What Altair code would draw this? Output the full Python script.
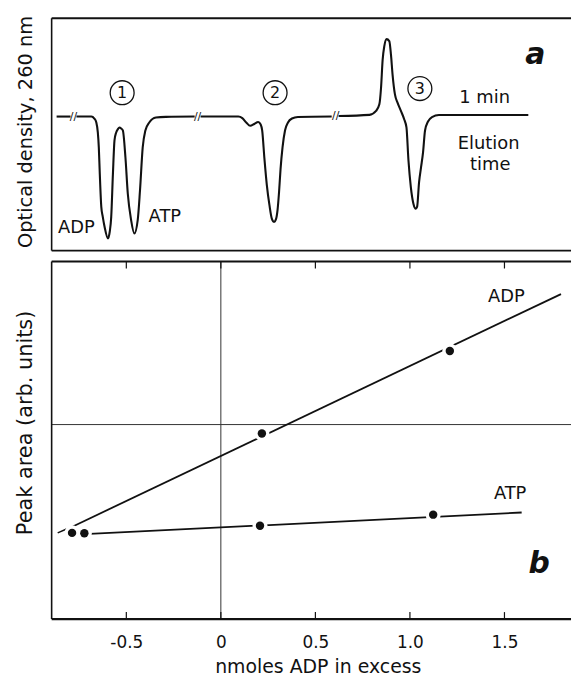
import altair as alt
import pandas as pd

# ---------------- panel a : elution traces (time offset, signal vs baseline) -------------
seg0_t = [5, 19]
seg0_s = [0, 0]
seg1_t = [25, 40, 43, 45, 46.5, 47.5, 48.5, 50, 51.5, 53.3, 56.7, 58.5, 60, 61.7, 63.3, 65,
          66.7, 68.3, 70, 71.7, 74.3, 76.7, 80, 83.3, 86.7, 89, 91.7, 94.3, 98.3, 105, 115, 144]
seg1_s = [0, 0, -2, -6, -16, -31, -58, -91, -101, -111, -122.7, -116, -101, -58, -24, -16,
          -12.7, -11, -12, -14, -41, -77.7, -104, -117.7, -104, -74, -31, -14.3, -6, -1, -0.3, 0]
seg2_t = [150, 188, 192, 196, 200, 204, 208, 210.5, 212, 214.3, 216.7, 219.3, 221.7, 224, 226,
          227.5, 229, 230.5, 232.5, 235, 238, 242, 248, 282]
seg2_s = [0, 0, -1.5, -6, -9.3, -7.5, -5.5, -8, -14, -42.7, -69, -89, -102.7, -106, -103,
          -94, -76, -53, -31, -14, -6, -2, -0.5, 0]
seg3_t = [289, 320, 326.7, 330, 331.7, 333.3, 335, 337.3, 340, 341.7, 343.3, 345.7, 348.3, 351.7,
          355, 357.3, 359.3, 361.7, 364.3, 366.7, 368, 370, 372, 374, 376, 379, 383, 390, 480]
seg3_s = [0.5, 1.7, 5.7, 12.3, 29, 57, 71, 78, 76, 62.3, 42.3, 22.3, 14, 5.7,
          -2.7, -11, -44, -71, -87.7, -92.7, -91, -66, -51, -36, -14, -5, -0.5, 1.5, 1.5]

break_t = [22, 147, 286]
break_s = [0, 0, 1]

run_labels = ["1", "2", "3"]
run_t = [71, 225, 370.8]
run_s = [24, 24, 28.2]

top_text = ["ADP", "ATP", "1 min", "Elution", "time"]
top_text_t = [25, 114, 436, 440, 441.7]
top_text_s = [-112.7, -101, 18.5, -27.7, -49.3]

# ---------------- panel b : peak area vs nmoles ADP in excess ----------------------------
adp_x = [-0.787, 0.217, 1.211]
adp_y = [2.41, 5.19, 7.5]
atp_x = [-0.722, 0.207, 1.123]
atp_y = [2.40, 2.61, 2.92]

adp_fit_x = [-0.783, 1.799]
adp_fit_y = [2.59, 9.09]
atp_fit_x = [-0.695, 1.591]
atp_fit_y = [2.38, 2.98]
adp_lead_x = [-0.863, -0.816]
adp_lead_y = [2.41, 2.52]

ref_x = [0]
ref_y = [5.44]
xtick_values = [-0.5, 0, 0.5, 1.0, 1.5]

bot_text = ["ADP", "ATP"]
bot_text_x = [1.51, 1.53]
bot_text_y = [9.0, 3.5]

# ---------------- styling ----------------
W = 523
H_TOP = 234
H_BOT = 360
FONT = "DejaVu Sans"
INK = "#111111"

trace_df = pd.concat([
    pd.DataFrame({"t": seg0_t, "s": seg0_s, "seg": "0"}),
    pd.DataFrame({"t": seg1_t, "s": seg1_s, "seg": "1"}),
    pd.DataFrame({"t": seg2_t, "s": seg2_s, "seg": "2"}),
    pd.DataFrame({"t": seg3_t, "s": seg3_s, "seg": "3"}),
], ignore_index=True)
break_df = pd.DataFrame({"t": break_t, "s": break_s})
run_df = pd.DataFrame({"t": run_t, "s": run_s, "label": run_labels})
ttext_df = pd.DataFrame({"t": top_text_t, "s": top_text_s, "label": top_text})
one = pd.DataFrame({"k": [0]})

top_x = alt.X("t:Q", scale=alt.Scale(domain=[0, W], nice=False, zero=False), axis=None)
top_y = alt.Y("s:Q", scale=alt.Scale(domain=[-135, 99], nice=False, zero=False),
              axis=alt.Axis(title="Optical density, 260 nm", labels=False, ticks=False,
                            domain=False, grid=False, titleFont=FONT, titleFontSize=19.5,
                            titleFontWeight="normal", titleColor=INK, titleAngle=270,
                            titleBaseline="middle", titleX=-26, titleY=114))

trace = alt.Chart(trace_df).mark_line(color=INK, strokeWidth=2.1, interpolate="monotone").encode(
    x=top_x, y=top_y, detail="seg:N")
breaks = alt.Chart(break_df).mark_text(text="//", fontSize=11, font=FONT, color=INK).encode(
    x=top_x, y=top_y)
circles = alt.Chart(run_df).mark_point(shape="circle", filled=False, size=580, color=INK,
                                       strokeWidth=1.3, opacity=1).encode(x=top_x, y=top_y)
circle_nums = alt.Chart(run_df).mark_text(fontSize=16, font=FONT, color=INK).encode(
    x=top_x, y=top_y, text="label:N")
top_labels = alt.Chart(ttext_df).mark_text(fontSize=18, font=FONT, color=INK).encode(
    x=top_x, y=top_y, text="label:N")
letter_a = alt.Chart(pd.DataFrame({"t": [487], "s": [62.3]})).mark_text(
    text="a", fontSize=30, font=FONT, fontStyle="italic", fontWeight="bold", color=INK).encode(
    x=top_x, y=top_y)

t_border_top = alt.Chart(one).mark_rule(color=INK, strokeWidth=2).encode(
    x=alt.value(0), x2=alt.value(W), y=alt.value(0))
t_border_bot = alt.Chart(one).mark_rule(color=INK, strokeWidth=2).encode(
    x=alt.value(0), x2=alt.value(W), y=alt.value(H_TOP))
t_border_left = alt.Chart(one).mark_rule(color=INK, strokeWidth=1.6).encode(
    x=alt.value(0), y=alt.value(0), y2=alt.value(H_TOP))

top = alt.layer(trace, breaks, circles, circle_nums, top_labels, letter_a,
                t_border_top, t_border_bot, t_border_left).properties(width=W, height=H_TOP)

# ---------------- bottom panel ----------------
bot_x = alt.X("x:Q", scale=alt.Scale(domain=[-0.895, 1.852], nice=False, zero=False),
              axis=alt.Axis(values=xtick_values, title="nmoles ADP in excess",
                            labelExpr="datum.value == 0 ? '0' : replace(format(datum.value, '.1f'), '\u2212', '-')",
                            ticks=False, domain=False, grid=False, labelFont=FONT, labelFontSize=17,
                            labelColor=INK, labelPadding=16, titleFont=FONT, titleFontSize=19,
                            titleFontWeight="normal", titleColor=INK, titlePadding=7,
                            titleX=268))
bot_y = alt.Y("y:Q", scale=alt.Scale(domain=[0, 10], nice=False, zero=False),
              axis=alt.Axis(title="Peak area (arb. units)", labels=False, ticks=False,
                            domain=False, grid=False, titleFont=FONT, titleFontSize=21,
                            titleFontWeight="normal", titleColor=INK, titleAngle=270,
                            titleBaseline="middle", titleX=-26, titleY=162))

pts_df = pd.concat([
    pd.DataFrame({"x": adp_x, "y": adp_y, "series": "ADP"}),
    pd.DataFrame({"x": atp_x, "y": atp_y, "series": "ATP"}),
], ignore_index=True)
fit_df = pd.concat([
    pd.DataFrame({"x": adp_fit_x, "y": adp_fit_y, "series": "ADP"}),
    pd.DataFrame({"x": atp_fit_x, "y": atp_fit_y, "series": "ATP"}),
], ignore_index=True)
lead_df = pd.DataFrame({"x": adp_lead_x, "y": adp_lead_y})
btext_df = pd.DataFrame({"x": bot_text_x, "y": bot_text_y, "label": bot_text})

vline = alt.Chart(pd.DataFrame({"x": ref_x})).mark_rule(color="#333333", strokeWidth=1).encode(x=bot_x)
hline = alt.Chart(pd.DataFrame({"y": ref_y})).mark_rule(color="#333333", strokeWidth=1).encode(y=bot_y)
fits = alt.Chart(fit_df).mark_line(color=INK, strokeWidth=1.8).encode(x=bot_x, y=bot_y, detail="series:N")
lead = alt.Chart(lead_df).mark_line(color=INK, strokeWidth=1.5).encode(x=bot_x, y=bot_y)
halos = alt.Chart(pts_df).mark_circle(color="white", size=230, opacity=1).encode(x=bot_x, y=bot_y)
dots = alt.Chart(pts_df).mark_circle(color=INK, size=72, opacity=1).encode(x=bot_x, y=bot_y)
tick_df = pd.DataFrame({"x": xtick_values})
ticks_b = alt.Chart(tick_df).mark_rule(color=INK, strokeWidth=1.2).encode(
    x=bot_x, y=alt.value(H_BOT), y2=alt.value(H_BOT - 7))
ticks_t = alt.Chart(tick_df).mark_rule(color=INK, strokeWidth=1.2).encode(
    x=bot_x, y=alt.value(0), y2=alt.value(7))
b_border_top = alt.Chart(one).mark_rule(color=INK, strokeWidth=2).encode(
    x=alt.value(0), x2=alt.value(W), y=alt.value(0))
b_border_bot = alt.Chart(one).mark_rule(color=INK, strokeWidth=2.2).encode(
    x=alt.value(0), x2=alt.value(W), y=alt.value(H_BOT))
b_border_left = alt.Chart(one).mark_rule(color=INK, strokeWidth=1.6).encode(
    x=alt.value(0), y=alt.value(0), y2=alt.value(H_BOT))
bot_labels = alt.Chart(btext_df).mark_text(fontSize=18, font=FONT, color=INK).encode(
    x=bot_x, y=bot_y, text="label:N")
letter_b = alt.Chart(pd.DataFrame({"x": [1.684], "y": [1.53]})).mark_text(
    text="b", fontSize=30, font=FONT, fontStyle="italic", fontWeight="bold", color=INK).encode(
    x=bot_x, y=bot_y)

bottom = alt.layer(vline, hline, fits, lead, halos, dots, ticks_b, ticks_t,
                   b_border_top, b_border_bot, b_border_left, bot_labels, letter_b).properties(
    width=W, height=H_BOT)

chart = alt.vconcat(top, bottom, spacing=9).configure_view(stroke=None).properties(
    padding={"left": 14, "top": 13, "right": 0, "bottom": 0}, background="white")

chart.save("out.html", embed_options={"renderer": "svg", "actions": False})
